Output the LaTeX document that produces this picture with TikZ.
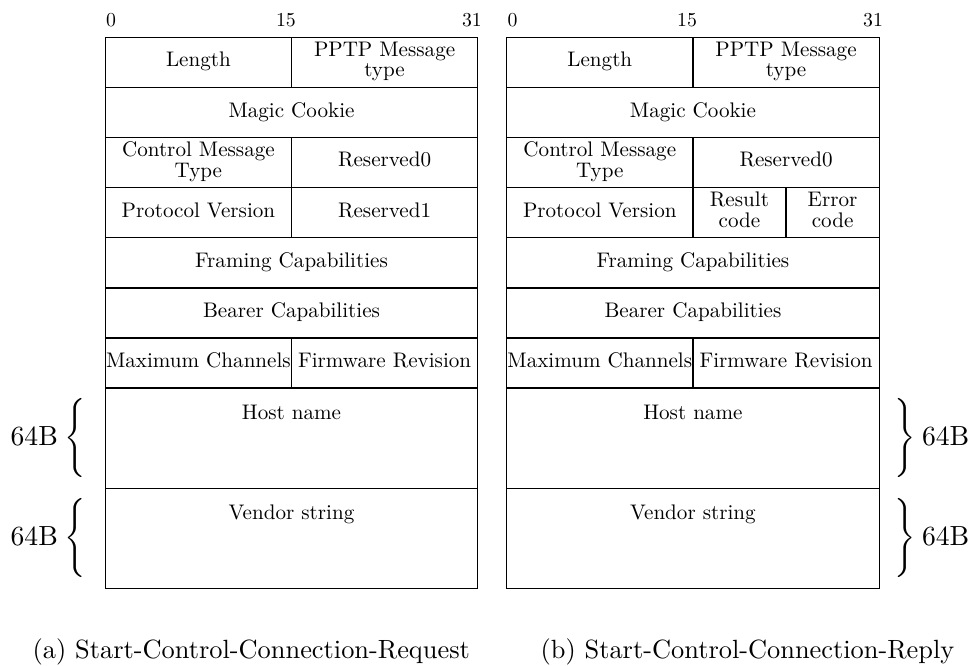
\documentclass[tikz,border=0pt]{standalone}
\usepackage{graphicx}
\usetikzlibrary{calc}
\tikzset{
  field/.style={draw, line width=0.5pt, inner sep=0pt},
  fieldlbl/.style={inner sep=0pt, anchor=base},
  bitlbl/.style={inner sep=0pt, anchor=base},
  sizelbl/.style={inner sep=0pt, font=\fontsize{10.5}{12.6}\selectfont},
  bracelbl/.style={inner sep=0pt},
  capt/.style={inner sep=0pt, anchor=base, font=\normalsize},
}
% field text: 10pt design size scaled down to 8pt
\newcommand\ftxt[1]{\scalebox{0.8}{\fontsize{10}{9.6}\selectfont\begin{tabular}{@{}c@{}}#1\end{tabular}}}
\newcommand\ltxt[1]{\scalebox{0.8}{\fontsize{10}{12}\selectfont #1}}
\newcommand\btxt[1]{\scalebox{0.75}{\fontsize{10}{12}\selectfont #1}}
\newcommand\fld[6]{\node[field, minimum width={(#4-#2)*0.37922pt}, minimum height={(#5-#3)*0.37922pt}] (#1) at ({(#2+#4)/2},{(#3+#5)/2}) {#6};}
\begin{document}
\begin{tikzpicture}[x=0.37922pt, y=-0.37922pt]
\useasboundingbox (0,0) rectangle (973,666);
% ---------- (a) request ----------
\node[bitlbl] (a0) at (111.1,26.7) {\btxt{0}};
\node[bitlbl] (a15) at (285.9,26.7) {\btxt{15}};
\node[bitlbl] (a31) at (471.9,26.7) {\btxt{31}};
\fld{aLen}{105.3}{37.5}{291.5}{87.6}{\ftxt{Length}}
\fld{aType}{291.5}{37.5}{477.7}{87.6}{\ftxt{PPTP Message\\type}}
\fld{aMagic}{105.3}{87.6}{477.7}{137.7}{\ftxt{Magic Cookie}}
\fld{aCtl}{105.3}{137.7}{291.5}{187.7}{\ftxt{Control Message\\Type}}
\fld{aRes0}{291.5}{137.7}{477.7}{187.7}{\ftxt{Reserved0}}
\fld{aProt}{105.3}{187.7}{291.5}{237.8}{\ftxt{Protocol Version}}
\fld{aRes1}{291.5}{187.7}{477.7}{237.8}{\ftxt{Reserved1}}
\fld{aFram}{105.3}{237.8}{477.7}{287.9}{\ftxt{Framing Capabilities}}
\fld{aBear}{105.3}{287.9}{477.7}{338.0}{\ftxt{Bearer Capabilities}}
\fld{aMax}{105.3}{338.0}{291.5}{388.1}{\ftxt{Maximum Channels}}
\fld{aFirm}{291.5}{338.0}{477.7}{388.1}{\ftxt{Firmware Revision}}
\fld{aHost}{105.3}{388.1}{477.7}{488.2}{}
\fld{aVend}{105.3}{488.2}{477.7}{588.3}{}
\node[fieldlbl] (aHostT) at (291.5,419.6) {\ltxt{Host name}};
\node[fieldlbl] (aVendT) at (291.5,519.7) {\ltxt{Vendor string}};
\node[bracelbl] (aBr1) at (75.5,438.1) {$\Bigg\{$};
\node[bracelbl] (aBr2) at (75.5,538.2) {$\Bigg\{$};
\node[sizelbl, anchor=base east] (aSz1) at (58.4,445.0) {64B};
\node[sizelbl, anchor=base east] (aSz2) at (58.4,545.1) {64B};
\node[capt] (capA) at (251.3,658) {(a) Start-Control-Connection-Request};
% ---------- (b) reply ----------
\node[bitlbl] (b0) at (512.5,26.7) {\btxt{0}};
\node[bitlbl] (b15) at (687.1,26.7) {\btxt{15}};
\node[bitlbl] (b31) at (873.1,26.7) {\btxt{31}};
\fld{bLen}{506.7}{37.5}{692.9}{87.6}{\ftxt{Length}}
\fld{bType}{692.9}{37.5}{879.2}{87.6}{\ftxt{PPTP Message\\type}}
\fld{bMagic}{506.7}{87.6}{879.2}{137.7}{\ftxt{Magic Cookie}}
\fld{bCtl}{506.7}{137.7}{692.9}{187.7}{\ftxt{Control Message\\Type}}
\fld{bRes0}{692.9}{137.7}{879.2}{187.7}{\ftxt{Reserved0}}
\fld{bProt}{506.7}{187.7}{692.9}{237.8}{\ftxt{Protocol Version}}
\fld{bRes}{692.9}{187.7}{786.0}{237.8}{\ftxt{Result\\code}}
\fld{bErr}{786.0}{187.7}{879.2}{237.8}{\ftxt{Error\\code}}
\fld{bFram}{506.7}{237.8}{879.2}{287.9}{\ftxt{Framing Capabilities}}
\fld{bBear}{506.7}{287.9}{879.2}{338.0}{\ftxt{Bearer Capabilities}}
\fld{bMax}{506.7}{338.0}{692.9}{388.1}{\ftxt{Maximum Channels}}
\fld{bFirm}{692.9}{338.0}{879.2}{388.1}{\ftxt{Firmware Revision}}
\fld{bHost}{506.7}{388.1}{879.2}{488.2}{}
\fld{bVend}{506.7}{488.2}{879.2}{588.3}{}
\node[fieldlbl] (bHostT) at (692.9,419.6) {\ltxt{Host name}};
\node[fieldlbl] (bVendT) at (692.9,519.7) {\ltxt{Vendor string}};
\node[bracelbl] (bBr1) at (905.5,438.1) {$\Bigg\}$};
\node[bracelbl] (bBr2) at (905.5,538.2) {$\Bigg\}$};
\node[sizelbl, anchor=base west] (bSz1) at (921.5,445.0) {64B};
\node[sizelbl, anchor=base west] (bSz2) at (921.5,545.1) {64B};
\node[capt] (capB) at (747.5,658) {(b) Start-Control-Connection-Reply};
\end{tikzpicture}
\end{document}
